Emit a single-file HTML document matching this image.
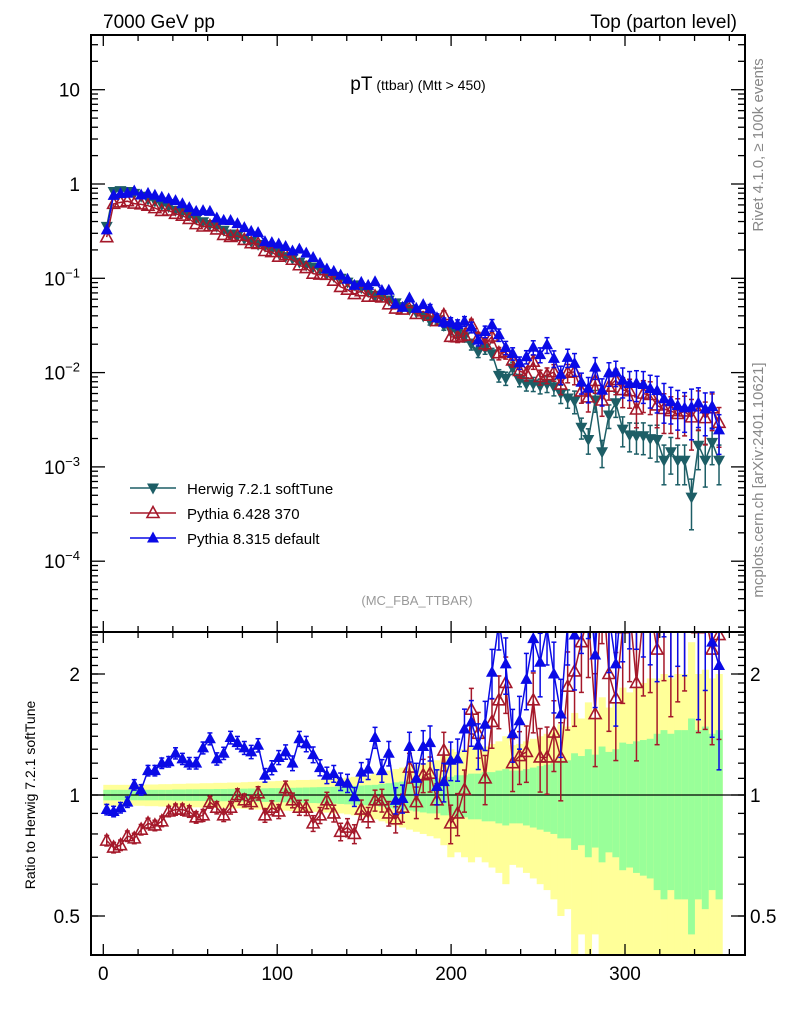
<!DOCTYPE html>
<html><head><meta charset="utf-8">
<style>
html,body{margin:0;padding:0;background:#fff;overflow:hidden;width:786px;height:1024px;}
svg{display:block;font-family:"Liberation Sans",sans-serif;}
</style></head>
<body>
<svg id="chart" width="786" height="1024" viewBox="0 0 786 1024" xmlns="http://www.w3.org/2000/svg">
<defs>
<clipPath id="clipMain"><rect x="91" y="35" width="654" height="597"/></clipPath>
<clipPath id="clipRatio"><rect x="91" y="632" width="654" height="323"/></clipPath>
</defs>
<rect width="786" height="1024" fill="#fff"/>
<text x="103" y="28" font-size="19">7000 GeV pp</text>
<text x="737" y="28" font-size="19" text-anchor="end">Top (parton level)</text>
<text x="418" y="90" text-anchor="middle"><tspan font-size="19">pT</tspan><tspan font-size="14"> (ttbar) (Mtt &gt; 450)</tspan></text>
<text x="417" y="605" text-anchor="middle" font-size="13" fill="#999">(MC_FBA_TTBAR)</text>
<text transform="translate(763,145) rotate(-90)" text-anchor="middle" font-size="15" fill="#888">Rivet 4.1.0, ≥ 100k events</text>
<text transform="translate(763,480) rotate(-90)" text-anchor="middle" font-size="15" fill="#888">mcplots.cern.ch [arXiv:2401.10621]</text>
<text transform="translate(35,795) rotate(-90)" text-anchor="middle" font-size="14">Ratio to Herwig 7.2.1 softTune</text>
<g id="bands" clip-path="url(#clipRatio)"></g>
<line x1="91" y1="795" x2="745" y2="795" stroke="#000" stroke-width="1.2"/>
<g id="mainSeries" clip-path="url(#clipMain)"></g>
<g id="ratioSeries" clip-path="url(#clipRatio)"></g>
<g id="axes"></g>
<rect x="91" y="35" width="654" height="597" fill="none" stroke="#000" stroke-width="2"/>
<rect x="91" y="632" width="654" height="323" fill="none" stroke="#000" stroke-width="2"/>
<g id="legend"></g>
</svg>
<script>
const binWidth = 3.956;
const herwigLog10 = [-0.45,-0.08,-0.07,-0.08,-0.10,-0.13,-0.16,-0.18,-0.22,-0.24,-0.28,-0.30,-0.33,-0.37,-0.40,-0.43,-0.45,-0.49,-0.53,-0.55,
-0.58,-0.61,-0.64,-0.66,-0.69,-0.73,-0.77,-0.79,-0.83,-0.86,-0.88,-0.91,-0.95,-0.98,-1.00,-1.04,-1.07,-1.10,-1.14,-1.18,
-1.19,-1.23,-1.26,-1.30,-1.33,-1.36,-1.40,-1.45,-1.44,-1.50,-1.55,-1.58,-1.62,-1.70,-1.78,-1.74,-1.80,-2.03,-2.06,-1.95,
-2.08,-2.12,-2.12,-2.14,-2.12,-2.15,-2.22,-2.27,-2.30,-2.58,-2.71,-2.29,-2.84,-2.45,-2.32,-2.60,-2.66,-2.67,-2.67,-2.70,
-2.71,-2.93,-2.84,-2.93,-2.93,-3.32,-2.77,-2.93,-2.74,-2.93];
const pythia6Ratio = [0.77,0.74,0.75,0.79,0.78,0.82,0.85,0.84,0.86,0.91,0.92,0.92,0.91,0.88,0.89,0.96,0.93,0.89,0.93,1.0,
0.97,0.96,1.01,0.89,0.93,0.91,1.04,0.97,0.93,0.93,0.85,0.89,0.97,0.9,0.81,0.83,0.8,0.92,0.88,0.97,
0.97,0.9,0.87,0.93,1.17,0.96,1.12,1.13,0.97,1.29,0.85,0.9,1.03,1.63,1.42,1.1,1.52,1.72,1.9,1.2,
1.25,1.28,1.72,1.24,1.24,1.43,1.24,1.86,2.03,2.4,2.8,1.59,3.5,2.0,1.74,2.6,2.9,1.9,2.8,2.9,
2.3,3.5,2.7,3.1,3.3,7.0,2.6,2.8,2.3,2.5];
const pythia8Ratio = [0.92,0.91,0.93,0.96,1.06,1.03,1.15,1.15,1.2,1.21,1.27,1.23,1.2,1.2,1.31,1.38,1.23,1.27,1.39,1.35,
1.31,1.28,1.33,1.12,1.17,1.24,1.28,1.2,1.38,1.34,1.26,1.17,1.12,1.13,1.08,1.07,0.99,1.14,1.16,1.39,
1.15,1.27,0.97,0.98,1.32,1.1,1.32,1.35,1.05,1.08,1.22,1.23,1.46,1.52,1.33,1.5,2.02,2.7,2.12,1.42,
1.53,1.94,2.45,2.14,2.6,2.0,1.59,2.7,2.5,3.0,3.5,2.23,4.5,2.8,2.12,3.3,3.5,3.6,3.5,3.4,
3.3,4.5,3.4,3.8,3.6,9.0,2.8,3.5,2.4,2.1];
const statErr = [0.03,0.03,0.03,0.03,0.03,0.03,0.03,0.03,0.03,0.03,0.032,0.032,0.033,0.033,0.034,0.034,0.035,0.035,0.036,0.036,
0.037,0.038,0.038,0.039,0.04,0.04,0.041,0.042,0.043,0.044,0.045,0.046,0.047,0.048,0.05,0.052,0.054,0.056,0.058,0.06,
0.065,0.07,0.075,0.08,0.085,0.09,0.095,0.1,0.1,0.11,0.11,0.12,0.12,0.13,0.13,0.14,0.14,0.15,0.16,0.15,
0.15,0.16,0.17,0.18,0.19,0.2,0.22,0.22,0.27,0.25,0.3,0.26,0.32,0.28,0.3,0.35,0.34,0.36,0.37,0.38,
0.42,0.45,0.42,0.45,0.45,0.55,0.45,0.48,0.42,0.45];
const totalErr = [0.06,0.06,0.06,0.06,0.06,0.06,0.062,0.062,0.064,0.064,0.066,0.066,0.068,0.068,0.07,0.07,0.072,0.072,0.074,0.074,
0.076,0.078,0.08,0.08,0.082,0.084,0.086,0.088,0.09,0.09,0.092,0.094,0.096,0.1,0.1,0.105,0.11,0.115,0.12,0.13,
0.14,0.15,0.16,0.17,0.18,0.19,0.2,0.21,0.22,0.25,0.3,0.28,0.3,0.32,0.3,0.32,0.34,0.36,0.4,0.33,
0.34,0.36,0.38,0.4,0.42,0.45,0.5,0.48,0.6,0.55,0.7,0.55,0.75,0.65,0.7,0.85,0.8,0.85,0.9,0.95,
0.95,1.0,0.95,1.0,1.0,1.4,1.0,1.05,0.95,1.0];
const xTickLabels = ["0","100","200","300"];
const xTickValues = [0,100,200,300];
const mainTickExps = [-4,-3,-2,-1,0,1];
const ratioTickValues = [0.5,1,2];
const ratioTickLabels = ["0.5","1","2"];

const NS = "http://www.w3.org/2000/svg";
function X(v){ return 103.3 + v*1.739; }
function YM(v){ return 184 - 94.3*Math.log10(v); }
function YR(r){ return 795 - 121*Math.log2(r); }
function mk(tag, attrs, parent){
  const e = document.createElementNS(NS, tag);
  for (const k in attrs) e.setAttribute(k, attrs[k]);
  parent.appendChild(e);
  return e;
}
const axes = document.getElementById('axes');
const bands = document.getElementById('bands');
const mainG = document.getElementById('mainSeries');
const ratioG = document.getElementById('ratioSeries');
const legend = document.getElementById('legend');

for (let i = 0; i < herwigLog10.length; i++) {
  const x0 = X(i*binWidth), x1 = X((i+1)*binWidth);
  const yTop = YR(1 + totalErr[i]);
  const yBot = (1 - totalErr[i]) > 0.05 ? YR(1 - totalErr[i]) : 960;
  const yr = mk('rect', {x:x0, y:yTop, width:x1-x0+0.3, height:yBot-yTop, fill:'#ffff99'}, bands);
  
  
  const gTop = YR(1 + statErr[i]);
  const gBot = (1 - statErr[i]) > 0.05 ? YR(1 - statErr[i]) : 960;
  const gr = mk('rect', {x:x0, y:gTop, width:x1-x0+0.3, height:gBot-gTop, fill:'#99ff99'}, bands);
  
  
}

function marker(type, x, y, color, parent){
  let pts;
  if (type === 'down') pts = `${x},${y+6.5} ${x-6},${y-4.5} ${x+6},${y-4.5}`;
  else pts = `${x},${y-6.5} ${x-6},${y+4.5} ${x+6},${y+4.5}`;
  const attrs = type === 'open' ? {points:pts, fill:'none', stroke:color, 'stroke-width':1.6} : {points:pts, fill:color};
  const m = mk('polygon', attrs, parent);
  
  
  return m;
}
function errbar(x, y1, y2, color, parent){
  const g = mk('g', {stroke:color, 'stroke-width':1.5}, parent);
  
  
  mk('line', {x1:x, y1:y1, x2:x, y2:y2}, g);
  mk('line', {x1:x-2.5, y1:y1, x2:x+2.5, y2:y1}, g);
  mk('line', {x1:x-2.5, y1:y2, x2:x+2.5, y2:y2}, g);
}
function series(vals, errs, type, color, name, yf, parent){
  const g = mk('g', {}, parent);
  
  
  let d = '';
  vals.forEach((v, i) => {
    const x = X((i+0.5)*binWidth);
    d += (i ? 'L' : 'M') + x.toFixed(1) + ',' + yf(v).toFixed(1);
  });
  const p = mk('path', {d:d, fill:'none', stroke:color, 'stroke-width':1.5}, g);
  
  
  vals.forEach((v, i) => {
    const x = X((i+0.5)*binWidth);
    const lo = Math.max(v*(1-errs[i]), v*0.02);
    const y1 = yf(v*(1+errs[i])), y2 = yf(lo);
    if (y2 - y1 > 8) errbar(x, y1, y2, color, g);
  });
  vals.forEach((v, i) => {
    marker(type, X((i+0.5)*binWidth), yf(v), color, g);
  });
}
const herwigVals = herwigLog10.map(l => Math.pow(10, l));
const p6Vals = herwigVals.map((h, i) => h*pythia6Ratio[i]);
const p8Vals = herwigVals.map((h, i) => h*pythia8Ratio[i]);
const cH = '#1d5e66', c6 = '#a5182a', c8 = '#0a0ae6';
series(herwigVals, statErr, 'down', cH, 'herwig-series', YM, mainG);
series(p6Vals, statErr, 'open', c6, 'pythia6-series', YM, mainG);
series(p8Vals, statErr, 'up', c8, 'pythia8-series', YM, mainG);
series(pythia6Ratio, statErr, 'open', c6, 'pythia6-ratio-series', YR, ratioG);
series(pythia8Ratio, statErr, 'up', c8, 'pythia8-ratio-series', YR, ratioG);

function tick(x1, y1, x2, y2){
  const t = mk('line', {x1:x1, y1:y1, x2:x2, y2:y2, stroke:'#000', 'stroke-width':1.3}, axes);
  
  
}
function label(x, y, txt, anchor, size){
  const t = mk('text', {x:x, y:y, 'text-anchor':anchor, 'font-size':size}, axes);
  t.textContent = txt;
  
  
  return t;
}
for (let v = 0; v <= 360; v += 20) {
  const major = v % 100 === 0;
  const L = major ? 11 : 6;
  const x = X(v);
  if (x > 744) continue;
  tick(x, 955, x, 955-L); tick(x, 632, x, 632+L);
  tick(x, 632, x, 632-L); tick(x, 35, x, 35+L);
}
xTickValues.forEach((v, i) => label(X(v), 980, xTickLabels[i], 'middle', 19));
mainTickExps.forEach(e => {
  const y = YM(Math.pow(10, e));
  tick(91, y, 105, y); tick(745, y, 731, y);
  let t;
  if (e === 0) t = label(80, y+7, '1', 'end', 19);
  else if (e === 1) t = label(80, y+7, '10', 'end', 19);
  else {
    t = label(80, y+7, '10', 'end', 19);
    const s = document.createElementNS(NS, 'tspan');
    s.setAttribute('font-size', '13');
    s.setAttribute('dy', '-8');
    s.textContent = '−' + (-e);
    t.appendChild(s);
  }
  for (let m = 2; m <= 9; m++) {
    const ym = YM(m*Math.pow(10, e));
    if (ym < 36) continue;
    tick(91, ym, 98, ym); tick(745, ym, 738, ym);
  }
});
for (let m = 2; m <= 9; m++) { const ym = YM(m*1e-5); if (ym < 632) { tick(91, ym, 98, ym); tick(745, ym, 738, ym); } }
for (let r = 0.4; r <= 2.55; r += 0.1) {
  const y = YR(r);
  if (y < 633 || y > 954) continue;
  tick(91, y, 98, y); tick(745, y, 738, y);
}
ratioTickValues.forEach((r, i) => {
  const y = YR(r);
  tick(91, y, 105, y); tick(745, y, 731, y);
  label(80, y+7, ratioTickLabels[i], 'end', 19);
  label(750, y+7, ratioTickLabels[i], 'start', 19);
});

const legItems = [['down', cH, 'Herwig 7.2.1 softTune'], ['open', c6, 'Pythia 6.428 370'], ['up', c8, 'Pythia 8.315 default']];
legItems.forEach((it, i) => {
  const y = 488 + i*25;
  const g = mk('g', {}, legend);
  
  
  mk('line', {x1:130, y1:y, x2:176, y2:y, stroke:it[1], 'stroke-width':1.5}, g);
  marker(it[0], 153, y, it[1], g);
  const t = mk('text', {x:187, y:y+6, 'font-size':15}, g);
  t.textContent = it[2];
  
  
});
</script>
</body></html>
